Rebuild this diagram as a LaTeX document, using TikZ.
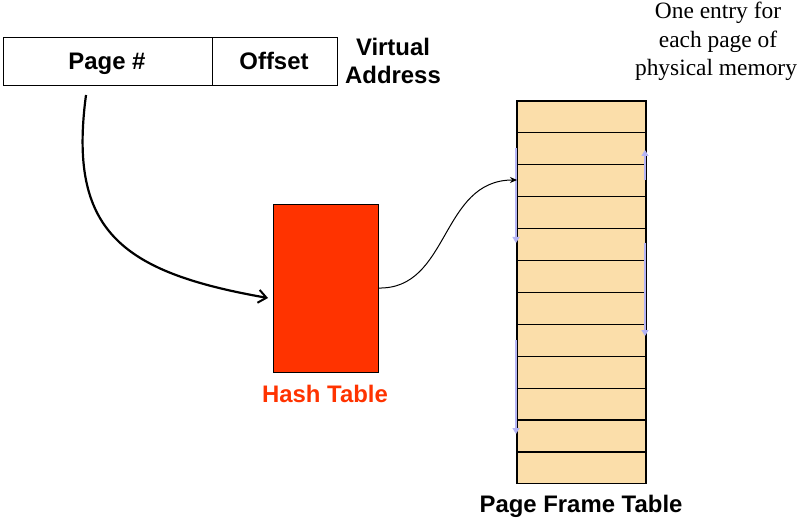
\documentclass[tikz,border=0pt]{standalone}
\usepackage{fontspec}
\setmainfont{Liberation Serif}
\setsansfont{Liberation Sans}
\usetikzlibrary{arrows.meta}
\definecolor{hashred}{RGB}{255,51,0}
\definecolor{frame}{RGB}{251,222,170}
\definecolor{lav}{RGB}{180,180,245}
\tikzset{
  lbl/.style={font=\sffamily\bfseries\fontsize{24}{28}\selectfont, inner sep=0pt, anchor=base},
  serif/.style={font=\fontsize{23.5}{28}\selectfont, inner sep=0pt, anchor=base},
  cell/.style={draw=black, line width=1.2bp, fill=frame, minimum width=129bp, minimum height=31.9bp, inner sep=0pt, outer sep=0pt, anchor=north west},
  lavarrow/.style={draw=lav, line width=1.2bp, -{Triangle[length=6bp,width=7bp]}},
}
\begin{document}
\begin{tikzpicture}[x=1bp,y=-1bp]
\useasboundingbox (0,0) rectangle (799,518);
% virtual address
\node[draw, line width=1bp, minimum width=209bp, minimum height=48bp, inner sep=0pt, anchor=north west] (pg) at (3,37) {};
\node[draw, line width=1bp, minimum width=125bp, minimum height=48bp, inner sep=0pt, anchor=north west] (off) at (212,37) {};
\node[lbl] (pgt) at (107,70) {Page \#};
\node[lbl] (offt) at (274,70) {Offset};
\node[lbl] (va1) at (393,56) {Virtual};
\node[lbl] (va2) at (393,84) {Address};
% note
\node[serif] (n1) at (718,19) {One entry for};
\node[serif] (n2) at (718,47.5) {each page of};
\node[serif] (n3) at (716,76) {physical memory};
% hash table
\node[draw, line width=1bp, fill=hashred, minimum width=105bp, minimum height=168bp, inner sep=0pt, anchor=north west] (ht) at (273,204) {};
\node[lbl, text=hashred] (htl) at (325,402) {Hash Table};
% page frame table
\foreach \i in {0,...,11} {
  \node[cell] (r\i) at (517,{101+31.9*\i}) {};
}
\node[lbl] (pft) at (581,512) {Page Frame Table};
% lavender arrows
\coordinate (l1a) at (516,148); \coordinate (l1b) at (516,243);
\coordinate (l2a) at (516,340); \coordinate (l2b) at (516,434);
\coordinate (r1a) at (645,180); \coordinate (r1b) at (645,150);
\coordinate (r2a) at (645,243); \coordinate (r2b) at (645,336);
\draw[lavarrow] (l1a) -- (l1b);
\draw[lavarrow] (l2a) -- (l2b);
\draw[lavarrow] (r1a) -- (r1b);
\draw[lavarrow] (r2a) -- (r2b);
% connectors
\coordinate (c1s) at (86,95);
\coordinate (c1e) at (268,298);
\draw[line width=2.2bp, -{Straight Barb[length=8bp,width=13bp,line width=2bp]}] (c1s) .. controls (68,230) and (120,272) .. (c1e);
\coordinate (c2s) at (378,288);
\coordinate (c2e) at (517,180);
\draw[line width=1bp, -{Stealth[length=7bp,width=6bp]}] (c2s) .. controls (450,290) and (440,180) .. (c2e);
\end{tikzpicture}
\end{document}
